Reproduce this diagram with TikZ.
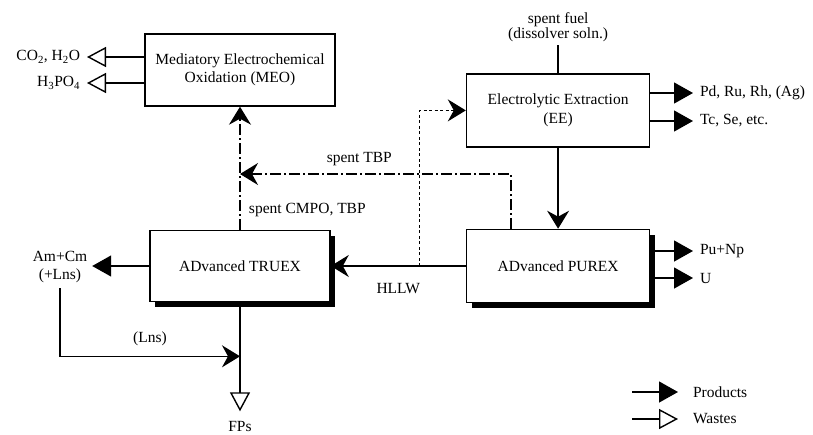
\documentclass[tikz,border=0pt]{standalone}
\usepackage{fontspec}
\setmainfont{Liberation Serif}
\usetikzlibrary{positioning,arrows.meta,shadows}

\begin{document}
\begin{tikzpicture}[
    x=1pt, y=-1pt,
    font=\fontsize{15.5}{18.5}\selectfont,
    unit/.style={draw, line width=1.6pt, fill=white, minimum height=72pt,
                 align=center},
    shadowed/.style={unit, drop shadow={shadow xshift=5pt, shadow yshift=-5pt,
                     opacity=1, fill=black}},
    arr/.style={-{Stealth[length=18pt, width=22pt, inset=6pt]}, line width=1.3pt},
    product/.style={-{Triangle[length=19pt, width=21pt]}, line width=1.3pt},
    waste/.style={-{Triangle[open, length=19pt, width=20pt, line width=1.4pt]},
                  line width=1.3pt},
    dashdot/.style={dash pattern=on 11pt off 3pt on 2pt off 3pt},
    shortdash/.style={dash pattern=on 3pt off 2.5pt, line width=1.3pt},
    outlbl/.style={anchor=west, inner sep=0pt, outer sep=7pt},
    inlbl/.style={anchor=east, inner sep=0pt, outer sep=7pt},
  ]
  \useasboundingbox (0,0) rectangle (813,434);

  % Process units
  \node[shadowed, minimum width=180pt, minimum height=71pt] (truex) at (240,266) {ADvanced TRUEX};
  \node[shadowed, minimum width=183pt, minimum height=73pt, right=135pt of truex] (purex) {ADvanced PUREX};
  \node[unit, minimum width=183pt, minimum height=73pt, above=81pt of purex] (ee) {Electrolytic Extraction\\(EE)};
  \node[unit, minimum width=190pt, above=123pt of truex] (meo) {Mediatory Electrochemical\\Oxidation (MEO)};

  % Feed
  \node[above=28pt of ee, align=center, inner sep=0pt, outer sep=3pt] (fuel) {spent fuel\\[-3pt](dissolver soln.)};
  \draw[line width=1.3pt] (fuel.south) -- (ee.north);

  % Output streams
  \node[outlbl] (pgm) at (693,93) {Pd, Ru, Rh, (Ag)};
  \node[outlbl] (tcse) at (693,121) {Tc, Se, etc.};
  \node[outlbl] (punp) at (693,251) {Pu+Np};
  \node[outlbl] (uran) at (693,278) {U};
  \node[inlbl] (co2) at (87,57) {CO\textsubscript{2}, H\textsubscript{2}O};
  \node[inlbl] (h3po4) at (87,83) {H\textsubscript{3}PO\textsubscript{4}};
  \node[align=center, inner sep=0pt, outer sep=5pt] (amcm) at (60,267) {Am+Cm\\(+Lns)};

  \draw[product] (ee.east |- pgm.west) -- (pgm.west);
  \draw[product] (ee.east |- tcse.west) -- (tcse.west);
  \draw[product] (purex.east |- punp.west) -- (punp.west);
  \draw[product] (purex.east |- uran.west) -- (uran.west);
  \draw[waste] (meo.west |- co2.east) -- (co2.east);
  \draw[waste] (meo.west |- h3po4.east) -- (h3po4.east);
  \draw[product] (truex.west) -- (amcm.east |- truex.west);

  % Internal streams
  \draw[arr] (ee.south) -- (purex.north);
  \draw[arr] (purex.west) -- node[below=13pt]{HLLW} (truex.east);

  \coordinate (tap) at ([xshift=-46pt]purex.west);
  \draw[arr, shortdash] (tap) |- (ee.west);

  \coordinate (tbpstart) at ([xshift=-47pt]purex.north);
  \coordinate (tbpjoin) at (meo.south |- 0,174);
  \draw[arr, dashdot] (tbpstart) |- node[pos=0.78, above=4pt]{spent TBP} (tbpjoin);
  \draw[arr, dashdot] (truex.north) -- node[pos=0.16, right=5pt]{spent CMPO, TBP} (meo.south);

  \coordinate (lnsjoin) at ([yshift=-54pt]truex.south);
  \draw[arr] (amcm.south) |- node[pos=0.75, above=7pt]{(Lns)} (lnsjoin);

  \coordinate (fpstip) at ([yshift=-109pt]truex.south);
  \node[below=10pt of fpstip, inner sep=0pt] (fps) {FPs};
  \draw[waste] (truex.south) -- (fpstip);

  % Legend
  \coordinate (legprod) at (632,392);
  \coordinate (legwaste) at (632,419);
  \node[outlbl, outer sep=15pt] (prodlbl) at (678,392) {Products};
  \node[outlbl, outer sep=15pt] (wastelbl) at (678,419) {Wastes};
  \draw[product] (legprod) -- (prodlbl.west);
  \draw[waste] (legwaste) -- (wastelbl.west);

\end{tikzpicture}
\end{document}
